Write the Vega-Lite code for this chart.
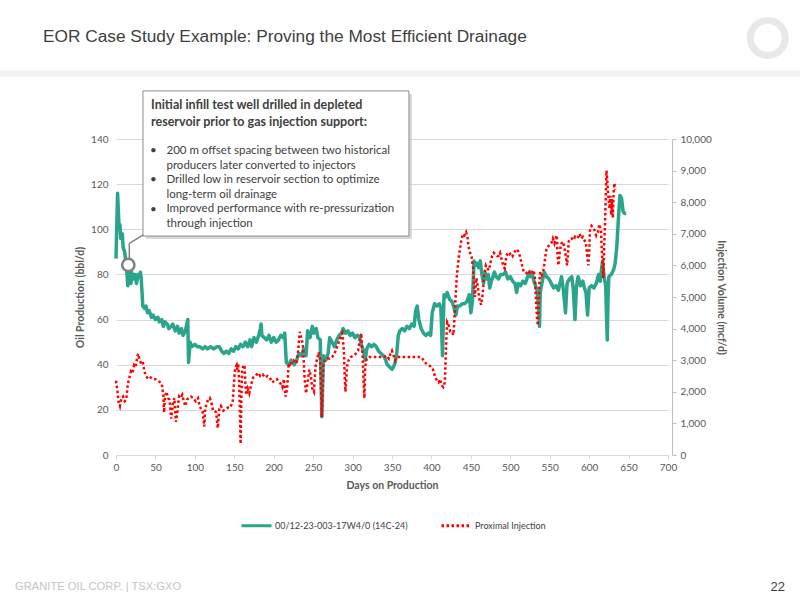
{
  "$schema": "https://vega.github.io/schema/vega-lite/v6.json",
  "width": 552,
  "height": 316,
  "autosize": "none",
  "padding": {"left": 116, "top": 139, "right": 132, "bottom": 145},
  "background": "white",
  "datasets": {
    "oil": [
      {"day": 0, "oil": 87}, {"day": 2, "oil": 116}, {"day": 3, "oil": 108}, {"day": 4, "oil": 100}, {"day": 5, "oil": 102},
      {"day": 6, "oil": 96}, {"day": 8, "oil": 98}, {"day": 9, "oil": 92}, {"day": 11, "oil": 90}, {"day": 13, "oil": 84},
      {"day": 14, "oil": 80}, {"day": 15, "oil": 75}, {"day": 16, "oil": 80}, {"day": 17, "oil": 82}, {"day": 18, "oil": 78},
      {"day": 19, "oil": 76}, {"day": 20, "oil": 81}, {"day": 22, "oil": 78}, {"day": 24, "oil": 80}, {"day": 26, "oil": 76},
      {"day": 28, "oil": 80}, {"day": 30, "oil": 79}, {"day": 31, "oil": 81}, {"day": 32, "oil": 78}, {"day": 34, "oil": 66},
      {"day": 36, "oil": 65}, {"day": 38, "oil": 66}, {"day": 40, "oil": 63}, {"day": 42, "oil": 64}, {"day": 45, "oil": 61},
      {"day": 47, "oil": 62}, {"day": 50, "oil": 60}, {"day": 53, "oil": 61}, {"day": 55, "oil": 59}, {"day": 58, "oil": 60},
      {"day": 60, "oil": 57}, {"day": 62, "oil": 59}, {"day": 65, "oil": 58}, {"day": 67, "oil": 56}, {"day": 70, "oil": 57},
      {"day": 72, "oil": 58}, {"day": 75, "oil": 55}, {"day": 78, "oil": 57}, {"day": 80, "oil": 54}, {"day": 83, "oil": 56},
      {"day": 85, "oil": 53}, {"day": 88, "oil": 55}, {"day": 91, "oil": 60}, {"day": 92, "oil": 41}, {"day": 94, "oil": 50},
      {"day": 96, "oil": 48}, {"day": 100, "oil": 49}, {"day": 103, "oil": 48}, {"day": 106, "oil": 48}, {"day": 110, "oil": 47},
      {"day": 113, "oil": 48}, {"day": 116, "oil": 47}, {"day": 120, "oil": 48}, {"day": 124, "oil": 47}, {"day": 128, "oil": 48},
      {"day": 131, "oil": 48}, {"day": 134, "oil": 46}, {"day": 137, "oil": 45}, {"day": 140, "oil": 46}, {"day": 143, "oil": 45},
      {"day": 146, "oil": 47}, {"day": 149, "oil": 46}, {"day": 152, "oil": 48}, {"day": 155, "oil": 47}, {"day": 158, "oil": 49},
      {"day": 161, "oil": 48}, {"day": 164, "oil": 50}, {"day": 167, "oil": 48}, {"day": 170, "oil": 51}, {"day": 172, "oil": 48},
      {"day": 175, "oil": 52}, {"day": 178, "oil": 50}, {"day": 181, "oil": 53}, {"day": 183, "oil": 56}, {"day": 184, "oil": 58},
      {"day": 185, "oil": 53}, {"day": 188, "oil": 52}, {"day": 191, "oil": 51}, {"day": 194, "oil": 53}, {"day": 197, "oil": 50},
      {"day": 200, "oil": 52}, {"day": 203, "oil": 50}, {"day": 206, "oil": 51}, {"day": 209, "oil": 53}, {"day": 212, "oil": 52},
      {"day": 214, "oil": 54}, {"day": 215, "oil": 47}, {"day": 216, "oil": 41}, {"day": 219, "oil": 40}, {"day": 222, "oil": 42},
      {"day": 226, "oil": 40}, {"day": 229, "oil": 42}, {"day": 232, "oil": 45}, {"day": 235, "oil": 44}, {"day": 238, "oil": 47},
      {"day": 241, "oil": 44}, {"day": 243, "oil": 55}, {"day": 246, "oil": 52}, {"day": 249, "oil": 57}, {"day": 251, "oil": 54},
      {"day": 254, "oil": 56}, {"day": 256, "oil": 52}, {"day": 259, "oil": 51}, {"day": 261, "oil": 17}, {"day": 263, "oil": 44},
      {"day": 266, "oil": 42}, {"day": 269, "oil": 45}, {"day": 271, "oil": 52}, {"day": 274, "oil": 50}, {"day": 277, "oil": 48},
      {"day": 280, "oil": 51}, {"day": 283, "oil": 53}, {"day": 286, "oil": 54}, {"day": 288, "oil": 56}, {"day": 291, "oil": 54},
      {"day": 294, "oil": 55}, {"day": 297, "oil": 53}, {"day": 300, "oil": 54}, {"day": 303, "oil": 52}, {"day": 306, "oil": 53},
      {"day": 309, "oil": 52}, {"day": 311, "oil": 49}, {"day": 314, "oil": 46}, {"day": 316, "oil": 42}, {"day": 318, "oil": 47},
      {"day": 321, "oil": 49}, {"day": 324, "oil": 48}, {"day": 327, "oil": 49}, {"day": 330, "oil": 48}, {"day": 333, "oil": 46},
      {"day": 336, "oil": 45}, {"day": 339, "oil": 44}, {"day": 341, "oil": 43}, {"day": 344, "oil": 40}, {"day": 347, "oil": 39},
      {"day": 350, "oil": 38}, {"day": 352, "oil": 39}, {"day": 354, "oil": 41}, {"day": 356, "oil": 45}, {"day": 358, "oil": 53},
      {"day": 360, "oil": 55}, {"day": 363, "oil": 56}, {"day": 366, "oil": 55}, {"day": 369, "oil": 57}, {"day": 372, "oil": 56},
      {"day": 375, "oil": 58}, {"day": 378, "oil": 57}, {"day": 380, "oil": 64}, {"day": 382, "oil": 66}, {"day": 384, "oil": 60},
      {"day": 387, "oil": 56}, {"day": 390, "oil": 54}, {"day": 393, "oil": 53}, {"day": 396, "oil": 54}, {"day": 399, "oil": 53},
      {"day": 401, "oil": 63}, {"day": 404, "oil": 67}, {"day": 407, "oil": 66}, {"day": 410, "oil": 67}, {"day": 412, "oil": 65},
      {"day": 413, "oil": 55}, {"day": 414, "oil": 44}, {"day": 415, "oil": 58}, {"day": 416, "oil": 71}, {"day": 418, "oil": 70},
      {"day": 420, "oil": 72}, {"day": 423, "oil": 69}, {"day": 426, "oil": 68}, {"day": 428, "oil": 66}, {"day": 431, "oil": 62},
      {"day": 433, "oil": 66}, {"day": 436, "oil": 66}, {"day": 439, "oil": 67}, {"day": 442, "oil": 67}, {"day": 445, "oil": 68},
      {"day": 448, "oil": 71}, {"day": 450, "oil": 63}, {"day": 452, "oil": 68}, {"day": 454, "oil": 86}, {"day": 456, "oil": 84},
      {"day": 458, "oil": 85}, {"day": 460, "oil": 83}, {"day": 462, "oil": 86}, {"day": 464, "oil": 80}, {"day": 466, "oil": 76},
      {"day": 468, "oil": 81}, {"day": 470, "oil": 78}, {"day": 472, "oil": 80}, {"day": 474, "oil": 74}, {"day": 476, "oil": 77},
      {"day": 478, "oil": 79}, {"day": 480, "oil": 81}, {"day": 482, "oil": 79}, {"day": 485, "oil": 78}, {"day": 488, "oil": 80},
      {"day": 491, "oil": 80}, {"day": 494, "oil": 81}, {"day": 497, "oil": 78}, {"day": 500, "oil": 79}, {"day": 503, "oil": 77},
      {"day": 506, "oil": 76}, {"day": 508, "oil": 72}, {"day": 510, "oil": 76}, {"day": 513, "oil": 75}, {"day": 516, "oil": 77},
      {"day": 519, "oil": 76}, {"day": 521, "oil": 78}, {"day": 524, "oil": 81}, {"day": 526, "oil": 79}, {"day": 528, "oil": 80},
      {"day": 530, "oil": 77}, {"day": 532, "oil": 75}, {"day": 534, "oil": 73}, {"day": 536, "oil": 65}, {"day": 537, "oil": 57},
      {"day": 538, "oil": 72}, {"day": 540, "oil": 76}, {"day": 543, "oil": 81}, {"day": 546, "oil": 79}, {"day": 549, "oil": 78},
      {"day": 552, "oil": 76}, {"day": 555, "oil": 74}, {"day": 558, "oil": 75}, {"day": 561, "oil": 73}, {"day": 563, "oil": 76},
      {"day": 565, "oil": 79}, {"day": 567, "oil": 74}, {"day": 569, "oil": 67}, {"day": 570, "oil": 63}, {"day": 572, "oil": 76},
      {"day": 575, "oil": 78}, {"day": 578, "oil": 79}, {"day": 580, "oil": 73}, {"day": 582, "oil": 60}, {"day": 584, "oil": 75},
      {"day": 586, "oil": 79}, {"day": 589, "oil": 75}, {"day": 592, "oil": 77}, {"day": 594, "oil": 74}, {"day": 596, "oil": 72},
      {"day": 598, "oil": 62}, {"day": 600, "oil": 74}, {"day": 603, "oil": 75}, {"day": 606, "oil": 74}, {"day": 609, "oil": 76},
      {"day": 612, "oil": 80}, {"day": 614, "oil": 77}, {"day": 617, "oil": 86}, {"day": 619, "oil": 79}, {"day": 621, "oil": 75},
      {"day": 622, "oil": 62}, {"day": 623, "oil": 51}, {"day": 624, "oil": 70}, {"day": 625, "oil": 79}, {"day": 628, "oil": 80},
      {"day": 631, "oil": 82}, {"day": 633, "oil": 85}, {"day": 635, "oil": 92}, {"day": 637, "oil": 104}, {"day": 639, "oil": 115},
      {"day": 641, "oil": 114}, {"day": 643, "oil": 108}, {"day": 645, "oil": 107}, {"day": 647, "oil": 107}
    ],
    "injection": [
      {"day": 0, "injection": 2350}, {"day": 2, "injection": 2000}, {"day": 3, "injection": 1700}, {"day": 5, "injection": 1550},
      {"day": 7, "injection": 1800}, {"day": 9, "injection": 1850}, {"day": 11, "injection": 1700}, {"day": 13, "injection": 1750},
      {"day": 15, "injection": 2250}, {"day": 17, "injection": 2450}, {"day": 19, "injection": 2650}, {"day": 21, "injection": 2600},
      {"day": 23, "injection": 2850}, {"day": 25, "injection": 2800}, {"day": 27, "injection": 3100}, {"day": 28, "injection": 3200},
      {"day": 30, "injection": 3000}, {"day": 32, "injection": 2900}, {"day": 34, "injection": 2950}, {"day": 36, "injection": 2650},
      {"day": 38, "injection": 2500}, {"day": 41, "injection": 2400}, {"day": 44, "injection": 2450}, {"day": 47, "injection": 2400},
      {"day": 50, "injection": 2400}, {"day": 53, "injection": 2350}, {"day": 56, "injection": 2300}, {"day": 58, "injection": 2250},
      {"day": 60, "injection": 1900}, {"day": 61, "injection": 1350}, {"day": 62, "injection": 1800}, {"day": 64, "injection": 2000},
      {"day": 66, "injection": 1800}, {"day": 68, "injection": 1750}, {"day": 70, "injection": 1150}, {"day": 72, "injection": 1600},
      {"day": 74, "injection": 1800}, {"day": 76, "injection": 1050}, {"day": 78, "injection": 1400}, {"day": 80, "injection": 1850},
      {"day": 82, "injection": 1800}, {"day": 84, "injection": 1900}, {"day": 86, "injection": 1700}, {"day": 88, "injection": 1550},
      {"day": 90, "injection": 1750}, {"day": 92, "injection": 1800}, {"day": 95, "injection": 1850}, {"day": 98, "injection": 1800},
      {"day": 101, "injection": 1700}, {"day": 104, "injection": 1800}, {"day": 106, "injection": 1550}, {"day": 108, "injection": 1450},
      {"day": 110, "injection": 1350}, {"day": 112, "injection": 900}, {"day": 113, "injection": 1450}, {"day": 115, "injection": 1650},
      {"day": 117, "injection": 1750}, {"day": 119, "injection": 1800}, {"day": 121, "injection": 1650}, {"day": 123, "injection": 1400},
      {"day": 125, "injection": 1400}, {"day": 127, "injection": 1350}, {"day": 129, "injection": 850}, {"day": 131, "injection": 1450},
      {"day": 133, "injection": 1550}, {"day": 136, "injection": 1400}, {"day": 139, "injection": 1450}, {"day": 142, "injection": 1500},
      {"day": 145, "injection": 1500}, {"day": 148, "injection": 1700}, {"day": 150, "injection": 2400}, {"day": 151, "injection": 2750},
      {"day": 153, "injection": 2850}, {"day": 154, "injection": 2700}, {"day": 155, "injection": 2900}, {"day": 156, "injection": 2400},
      {"day": 157, "injection": 1500}, {"day": 158, "injection": 350}, {"day": 159, "injection": 1800}, {"day": 160, "injection": 2700},
      {"day": 162, "injection": 2850}, {"day": 163, "injection": 2800}, {"day": 164, "injection": 2300}, {"day": 165, "injection": 1900},
      {"day": 167, "injection": 2100}, {"day": 169, "injection": 1950}, {"day": 171, "injection": 2200}, {"day": 174, "injection": 2450},
      {"day": 177, "injection": 2500}, {"day": 180, "injection": 2600}, {"day": 183, "injection": 2500}, {"day": 186, "injection": 2550},
      {"day": 189, "injection": 2450}, {"day": 192, "injection": 2500}, {"day": 195, "injection": 2450}, {"day": 198, "injection": 2300},
      {"day": 201, "injection": 2350}, {"day": 204, "injection": 2400}, {"day": 207, "injection": 2300}, {"day": 209, "injection": 2250},
      {"day": 211, "injection": 2150}, {"day": 213, "injection": 2400}, {"day": 215, "injection": 1850}, {"day": 217, "injection": 2100},
      {"day": 219, "injection": 2900}, {"day": 221, "injection": 2800}, {"day": 223, "injection": 2950}, {"day": 225, "injection": 3000},
      {"day": 227, "injection": 2950}, {"day": 229, "injection": 2900}, {"day": 231, "injection": 3300}, {"day": 233, "injection": 3900},
      {"day": 235, "injection": 3700}, {"day": 237, "injection": 3500}, {"day": 239, "injection": 2500}, {"day": 241, "injection": 1950},
      {"day": 243, "injection": 2300}, {"day": 245, "injection": 2700}, {"day": 247, "injection": 2500}, {"day": 249, "injection": 2100},
      {"day": 251, "injection": 2000}, {"day": 253, "injection": 2800}, {"day": 255, "injection": 3050}, {"day": 257, "injection": 3250},
      {"day": 259, "injection": 3000}, {"day": 261, "injection": 1200}, {"day": 263, "injection": 2900}, {"day": 265, "injection": 3000},
      {"day": 268, "injection": 3050}, {"day": 271, "injection": 3050}, {"day": 274, "injection": 3100}, {"day": 277, "injection": 3200},
      {"day": 280, "injection": 3400}, {"day": 283, "injection": 3600}, {"day": 285, "injection": 3750}, {"day": 287, "injection": 3850},
      {"day": 289, "injection": 3300}, {"day": 290, "injection": 2500}, {"day": 291, "injection": 2000}, {"day": 293, "injection": 2800},
      {"day": 295, "injection": 3000}, {"day": 298, "injection": 3100}, {"day": 301, "injection": 3150}, {"day": 304, "injection": 3200},
      {"day": 307, "injection": 3300}, {"day": 309, "injection": 3600}, {"day": 311, "injection": 3850}, {"day": 313, "injection": 3000},
      {"day": 314, "injection": 2300}, {"day": 315, "injection": 1800}, {"day": 316, "injection": 2800}, {"day": 318, "injection": 3050},
      {"day": 321, "injection": 3100}, {"day": 325, "injection": 3100}, {"day": 329, "injection": 3100}, {"day": 333, "injection": 3100},
      {"day": 337, "injection": 3100}, {"day": 340, "injection": 3100}, {"day": 343, "injection": 3150}, {"day": 346, "injection": 3050},
      {"day": 348, "injection": 3200}, {"day": 350, "injection": 3300}, {"day": 352, "injection": 3150}, {"day": 354, "injection": 3000},
      {"day": 356, "injection": 3100}, {"day": 359, "injection": 3100}, {"day": 363, "injection": 3100}, {"day": 367, "injection": 3100},
      {"day": 371, "injection": 3100}, {"day": 375, "injection": 3100}, {"day": 379, "injection": 3100}, {"day": 383, "injection": 3100},
      {"day": 387, "injection": 3100}, {"day": 390, "injection": 3000}, {"day": 393, "injection": 2900}, {"day": 396, "injection": 2850},
      {"day": 399, "injection": 2800}, {"day": 402, "injection": 2700}, {"day": 405, "injection": 2450}, {"day": 407, "injection": 2350},
      {"day": 409, "injection": 2300}, {"day": 411, "injection": 2400}, {"day": 413, "injection": 2200}, {"day": 415, "injection": 2150},
      {"day": 417, "injection": 2300}, {"day": 419, "injection": 3750}, {"day": 420, "injection": 4200}, {"day": 422, "injection": 4100},
      {"day": 424, "injection": 3900}, {"day": 426, "injection": 3900}, {"day": 428, "injection": 3800}, {"day": 430, "injection": 4700},
      {"day": 432, "injection": 5600}, {"day": 434, "injection": 6100}, {"day": 436, "injection": 6500}, {"day": 438, "injection": 6800},
      {"day": 440, "injection": 7000}, {"day": 442, "injection": 6950}, {"day": 444, "injection": 7050}, {"day": 446, "injection": 6850},
      {"day": 447, "injection": 6600}, {"day": 448, "injection": 6500}, {"day": 449, "injection": 6400}, {"day": 451, "injection": 6250},
      {"day": 453, "injection": 5900}, {"day": 454, "injection": 5300}, {"day": 455, "injection": 5000}, {"day": 457, "injection": 5600},
      {"day": 459, "injection": 5300}, {"day": 461, "injection": 4900}, {"day": 463, "injection": 4750}, {"day": 465, "injection": 5100},
      {"day": 467, "injection": 5700}, {"day": 469, "injection": 6000}, {"day": 471, "injection": 5900}, {"day": 473, "injection": 5850},
      {"day": 475, "injection": 6100}, {"day": 477, "injection": 6300}, {"day": 479, "injection": 6400}, {"day": 481, "injection": 6350},
      {"day": 483, "injection": 6300}, {"day": 485, "injection": 6300}, {"day": 487, "injection": 6400}, {"day": 489, "injection": 6200},
      {"day": 491, "injection": 6000}, {"day": 493, "injection": 5900}, {"day": 495, "injection": 6300}, {"day": 497, "injection": 6400},
      {"day": 499, "injection": 6350}, {"day": 501, "injection": 6400}, {"day": 503, "injection": 6300}, {"day": 505, "injection": 6400},
      {"day": 507, "injection": 6500}, {"day": 509, "injection": 6500}, {"day": 511, "injection": 6400}, {"day": 513, "injection": 6200},
      {"day": 515, "injection": 6000}, {"day": 517, "injection": 5800}, {"day": 519, "injection": 5800}, {"day": 521, "injection": 5750},
      {"day": 523, "injection": 5700}, {"day": 525, "injection": 5800}, {"day": 527, "injection": 5750}, {"day": 529, "injection": 5850},
      {"day": 531, "injection": 5700}, {"day": 532, "injection": 5200}, {"day": 533, "injection": 4700}, {"day": 534, "injection": 4300},
      {"day": 535, "injection": 4100}, {"day": 536, "injection": 4700}, {"day": 537, "injection": 5500}, {"day": 538, "injection": 5800},
      {"day": 540, "injection": 5700}, {"day": 542, "injection": 5850}, {"day": 544, "injection": 6200}, {"day": 546, "injection": 6550},
      {"day": 548, "injection": 6600}, {"day": 550, "injection": 6650}, {"day": 552, "injection": 6700}, {"day": 554, "injection": 6850},
      {"day": 556, "injection": 6700}, {"day": 558, "injection": 6900}, {"day": 559, "injection": 6950}, {"day": 560, "injection": 6300},
      {"day": 561, "injection": 6000}, {"day": 563, "injection": 6500}, {"day": 565, "injection": 6700}, {"day": 567, "injection": 6750},
      {"day": 569, "injection": 6500}, {"day": 571, "injection": 6200}, {"day": 572, "injection": 6000}, {"day": 573, "injection": 6300},
      {"day": 574, "injection": 6750}, {"day": 576, "injection": 6850}, {"day": 578, "injection": 6850}, {"day": 580, "injection": 6800},
      {"day": 582, "injection": 6900}, {"day": 584, "injection": 6850}, {"day": 586, "injection": 6900}, {"day": 588, "injection": 7000},
      {"day": 590, "injection": 6850}, {"day": 592, "injection": 6900}, {"day": 594, "injection": 6800}, {"day": 596, "injection": 6700},
      {"day": 598, "injection": 6200}, {"day": 599, "injection": 6000}, {"day": 600, "injection": 6350}, {"day": 601, "injection": 7100},
      {"day": 603, "injection": 7250}, {"day": 605, "injection": 7200}, {"day": 607, "injection": 7100}, {"day": 609, "injection": 6950},
      {"day": 611, "injection": 7050}, {"day": 613, "injection": 7300}, {"day": 615, "injection": 7100}, {"day": 616, "injection": 6500},
      {"day": 618, "injection": 5600}, {"day": 619, "injection": 6600}, {"day": 620, "injection": 7200}, {"day": 621, "injection": 8100},
      {"day": 622, "injection": 9000}, {"day": 623, "injection": 8700}, {"day": 624, "injection": 8300}, {"day": 625, "injection": 8000},
      {"day": 626, "injection": 7800}, {"day": 627, "injection": 8200}, {"day": 628, "injection": 7600}, {"day": 629, "injection": 8100},
      {"day": 630, "injection": 7500}, {"day": 631, "injection": 8300}, {"day": 632, "injection": 8600}, {"day": 633, "injection": 8400}
    ],
    "one": [{}]
  },
  "layer": [
    {
      "layer": [
        {
          "data": {"name": "oil"},
          "mark": {"type": "line", "strokeWidth": 3.5, "strokeJoin": "round", "interpolate": "linear"},
          "encoding": {
            "x": {
              "field": "day", "type": "quantitative",
              "scale": {"domain": [0, 700], "nice": false},
              "axis": {
                "title": "Days on Production",
                "values": [0, 50, 100, 150, 200, 250, 300, 350, 400, 450, 500, 550, 600, 650, 700],
                "labelOverlap": false, "labelFlush": false,
                "domain": true, "domainColor": "#d9d9d9", "ticks": true, "tickColor": "#d9d9d9", "tickSize": 4,
                "labelPadding": 3, "titlePadding": 8, "grid": false
              }
            },
            "y": {
              "field": "oil", "type": "quantitative",
              "scale": {"domain": [0, 140], "nice": false},
              "axis": {
                "title": "Oil Production (bbl/d)",
                "orient": "left",
                "values": [0, 20, 40, 60, 80, 100, 120, 140],
                "grid": true, "gridColor": "#d9d9d9", "domain": false, "ticks": false,
                "labelPadding": 8, "titlePadding": 5
              }
            },
            "color": {
              "datum": "00/12-23-003-17W4/0 (14C-24)",
              "scale": {"domain": ["00/12-23-003-17W4/0 (14C-24)", "Proximal Injection"], "range": ["#2aa48a", "#ff0000"]},
              "legend": {"title": null}
            },
            "strokeDash": {
              "datum": "00/12-23-003-17W4/0 (14C-24)",
              "scale": {"domain": ["00/12-23-003-17W4/0 (14C-24)", "Proximal Injection"], "range": [[1, 0], [2.5, 2.5]]},
              "legend": {"title": null}
            }
          }
        },
        {
          "data": {"name": "injection"},
          "mark": {"type": "line", "strokeWidth": 2.5, "strokeCap": "butt", "interpolate": "linear"},
          "encoding": {
            "x": {
              "field": "day", "type": "quantitative",
              "scale": {"domain": [0, 700], "nice": false},
              "axis": {
                "title": "Days on Production",
                "values": [0, 50, 100, 150, 200, 250, 300, 350, 400, 450, 500, 550, 600, 650, 700],
                "labelOverlap": false, "labelFlush": false,
                "domain": true, "domainColor": "#d9d9d9", "ticks": true, "tickColor": "#d9d9d9", "tickSize": 4,
                "labelPadding": 3, "titlePadding": 8, "grid": false
              }
            },
            "y": {
              "field": "injection", "type": "quantitative",
              "scale": {"domain": [0, 10000], "nice": false},
              "axis": {
                "title": "Injection Volume (mcf/d)",
                "orient": "right",
                "values": [0, 1000, 2000, 3000, 4000, 5000, 6000, 7000, 8000, 9000, 10000],
                "format": ",d",
                "grid": false, "domain": true, "domainColor": "#bfbfbf", "ticks": true, "tickColor": "#bfbfbf", "tickSize": 4,
                "offset": 4, "labelPadding": 4, "titlePadding": 4
              }
            },
            "color": {"datum": "Proximal Injection", "legend": {"title": null}},
            "strokeDash": {"datum": "Proximal Injection", "legend": {"title": null}}
          }
        }
      ],
      "resolve": {"scale": {"y": "independent"}}
    },
    {
      "layer": [
        {
          "data": {"name": "one"},
          "mark": {"type": "rule", "color": "#f2f2f2", "strokeWidth": 6},
          "encoding": {
            "x": {"datum": -147.1, "type": "quantitative", "scale": {"domain": [0, 700], "nice": false}, "axis": null},
            "x2": {"datum": 867.4},
            "y": {"datum": 169, "type": "quantitative", "scale": {"domain": [0, 140], "nice": false}, "axis": null}
          }
        },
        {
          "data": {"name": "one"},
          "mark": {"type": "rect", "fill": "#c8c8c8", "opacity": 0.7},
          "encoding": {
            "x": {"datum": 38.0, "type": "quantitative", "axis": null}, "x2": {"datum": 375.3},
            "y": {"datum": 159.9, "type": "quantitative", "axis": null}, "y2": {"datum": 95.7}
          }
        },
        {
          "data": {"name": "one"},
          "mark": {"type": "rect", "fill": "white", "stroke": "#8c8c8c", "strokeWidth": 1},
          "encoding": {
            "x": {"datum": 34.2, "type": "quantitative", "axis": null}, "x2": {"datum": 371.5},
            "y": {"datum": 161.3, "type": "quantitative", "axis": null}, "y2": {"datum": 97.0}
          }
        },
        {
          "data": {"name": "one"},
          "mark": {"type": "rule", "color": "#808080", "strokeWidth": 1.5},
          "encoding": {
            "x": {"datum": 34.6, "type": "quantitative", "axis": null}, "x2": {"datum": 16.9},
            "y": {"datum": 97.5, "type": "quantitative", "axis": null}, "y2": {"datum": 93.8}
          }
        },
        {
          "data": {"name": "one"},
          "mark": {"type": "rule", "color": "#808080", "strokeWidth": 1.5},
          "encoding": {
            "x": {"datum": 16.9, "type": "quantitative", "axis": null},
            "y": {"datum": 93.8, "type": "quantitative", "axis": null}, "y2": {"datum": 87.1}
          }
        },
        {
          "data": {"name": "one"},
          "mark": {"type": "point", "shape": "circle", "filled": false, "fill": "white", "fillOpacity": 1, "stroke": "#808080", "strokeWidth": 2.5, "size": 150, "opacity": 1},
          "encoding": {
            "x": {"datum": 15.6, "type": "quantitative", "axis": null},
            "y": {"datum": 84.2, "type": "quantitative", "axis": null}
          }
        },
        {
          "data": {"name": "one"},
          "mark": {
            "type": "text", "align": "left", "baseline": "alphabetic", "font": "Lato", "fontWeight": "bold",
            "fontSize": 12.5, "color": "#404040", "lineHeight": 16.7,
            "text": ["Initial infill test well drilled in depleted", "reservoir prior to gas injection support:"]
          },
          "encoding": {
            "x": {"datum": 44.4, "type": "quantitative", "axis": null},
            "y": {"datum": 153.1, "type": "quantitative", "axis": null}
          }
        },
        {
          "data": {"name": "one"},
          "mark": {"type": "text", "align": "left", "baseline": "alphabetic", "font": "Lato", "fontSize": 11.5, "color": "#404040", "text": "•"},
          "encoding": {
            "x": {"datum": 43.1, "type": "quantitative", "axis": null},
            "y": {"datum": 133.4, "type": "quantitative", "axis": null}
          }
        },
        {
          "data": {"name": "one"},
          "mark": {"type": "text", "align": "left", "baseline": "alphabetic", "font": "Lato", "fontSize": 11.5, "color": "#404040", "text": "•"},
          "encoding": {
            "x": {"datum": 43.1, "type": "quantitative", "axis": null},
            "y": {"datum": 120.4, "type": "quantitative", "axis": null}
          }
        },
        {
          "data": {"name": "one"},
          "mark": {"type": "text", "align": "left", "baseline": "alphabetic", "font": "Lato", "fontSize": 11.5, "color": "#404040", "text": "•"},
          "encoding": {
            "x": {"datum": 43.1, "type": "quantitative", "axis": null},
            "y": {"datum": 107.4, "type": "quantitative", "axis": null}
          }
        },
        {
          "data": {"name": "one"},
          "mark": {
            "type": "text", "align": "left", "baseline": "alphabetic", "font": "Lato",
            "fontSize": 11.5, "color": "#404040", "lineHeight": 14.65,
            "text": [
              "200 m offset spacing between two historical",
              "producers later converted to injectors",
              "Drilled low in reservoir section to optimize",
              "long-term oil drainage",
              "Improved performance with re-pressurization",
              "through injection"
            ]
          },
          "encoding": {
            "x": {"datum": 64.0, "type": "quantitative", "axis": null},
            "y": {"datum": 133.4, "type": "quantitative", "axis": null}
          }
        },
        {
          "data": {"name": "one"},
          "mark": {
            "type": "text", "align": "left", "baseline": "middle", "font": "Liberation Sans",
            "fontSize": 17.3, "color": "#404040",
            "text": "EOR Case Study Example: Proving the Most Efficient Drainage"
          },
          "encoding": {
            "x": {"datum": -92.6, "type": "quantitative", "axis": null},
            "y": {"datum": 185.2, "type": "quantitative", "axis": null}
          }
        },
        {
          "data": {"name": "one"},
          "mark": {"type": "point", "shape": "circle", "filled": false, "stroke": "#e8e8e8", "strokeWidth": 7, "size": 1225, "opacity": 1},
          "encoding": {
            "x": {"datum": 826.5, "type": "quantitative", "axis": null},
            "y": {"datum": 184.8, "type": "quantitative", "axis": null}
          }
        },
        {
          "data": {"name": "one"},
          "mark": {
            "type": "text", "align": "left", "baseline": "middle", "font": "Liberation Sans",
            "fontSize": 11.2, "color": "#c4c4c4",
            "text": "GRANITE OIL CORP. | TSX:GXO"
          },
          "encoding": {
            "x": {"datum": -128.1, "type": "quantitative", "axis": null},
            "y": {"datum": -58.5, "type": "quantitative", "axis": null}
          }
        },
        {
          "data": {"name": "one"},
          "mark": {
            "type": "text", "align": "right", "baseline": "middle", "font": "Liberation Sans",
            "fontSize": 13, "color": "#404040", "text": "22"
          },
          "encoding": {
            "x": {"datum": 848.3, "type": "quantitative", "axis": null},
            "y": {"datum": -58.5, "type": "quantitative", "axis": null}
          }
        }
      ]
    }
  ],
  "resolve": {"scale": {"x": "independent", "y": "independent"}},
  "config": {
    "view": {"stroke": null},
    "axis": {
      "labelFont": "Lato", "labelFontSize": 10, "labelColor": "#595959",
      "titleFont": "Lato", "titleFontSize": 10.5, "titleFontWeight": "bold", "titleColor": "#595959"
    },
    "legend": {
      "orient": "none", "legendX": 124, "legendY": 370, "direction": "horizontal",
      "symbolType": "stroke", "symbolSize": 900, "symbolStrokeWidth": 3,
      "labelFont": "Lato", "labelFontSize": 9, "labelColor": "#404040", "labelOffset": 2,
      "columnPadding": 27
    }
  }
}
